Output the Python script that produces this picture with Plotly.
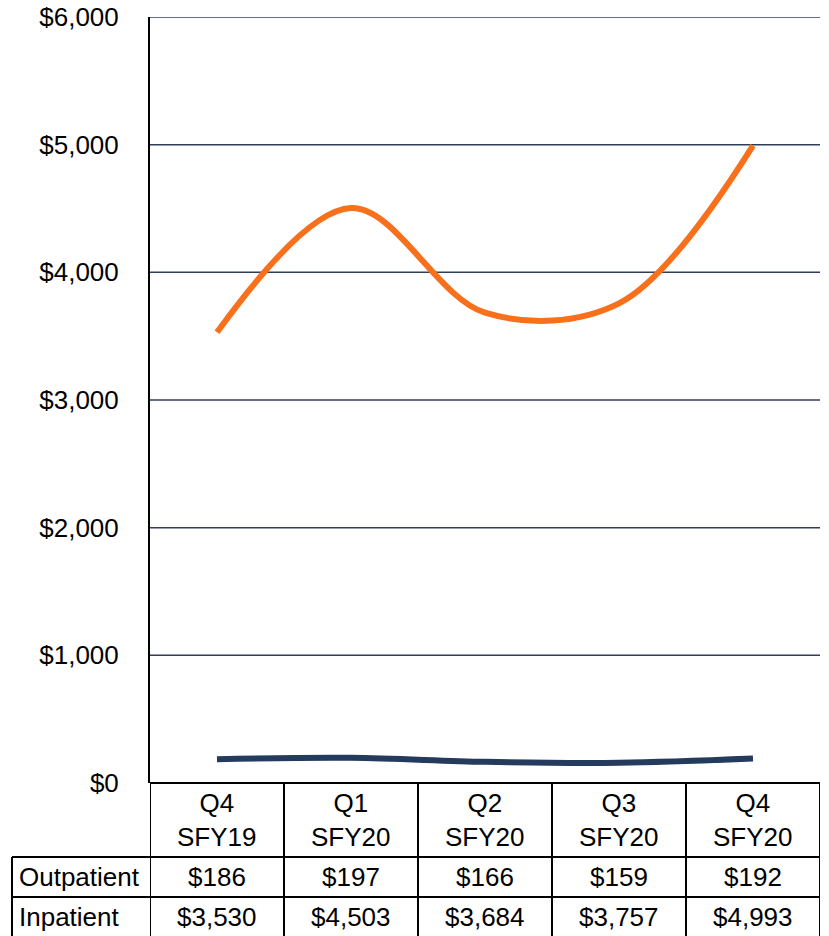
import plotly.graph_objects as go

# Quarterly cost per member data
quarters = ["Q4<br>SFY19", "Q1<br>SFY20", "Q2<br>SFY20", "Q3<br>SFY20", "Q4<br>SFY20"]
outpatient = [186, 197, 166, 159, 192]
inpatient = [3530, 4503, 3684, 3757, 4993]
row_labels = ["Outpatient", "Inpatient"]
y_ticks = [0, 1000, 2000, 3000, 4000, 5000, 6000]

W, H = 829, 936
ORANGE = "#F8701C"
NAVY = "#253B5E"
GRID = "#2F3D5A"
FONT = "Liberation Sans"
FS = 26

# pixel layout helpers (converted to paper fractions)
def px_x(p):
    return p / W

def px_y(p):
    return 1 - p / H

plot_left, plot_right = 150, 820
plot_top, plot_bottom = 17, 783
header_bottom, row1_bottom, row2_bottom = 857, 897, 937
label_left = 12

xs = list(range(len(quarters)))

fig = go.Figure()
fig.add_trace(go.Scatter(
    x=xs, y=inpatient, mode="lines", name="Inpatient",
    line=dict(color=ORANGE, width=6, shape="spline", smoothing=1.0),
))
fig.add_trace(go.Scatter(
    x=xs, y=outpatient, mode="lines", name="Outpatient",
    line=dict(color=NAVY, width=6, shape="spline", smoothing=1.0),
))

fig.update_layout(
    width=W, height=H,
    margin=dict(l=0, r=0, t=0, b=0, autoexpand=False),
    paper_bgcolor="white", plot_bgcolor="white",
    showlegend=False,
    font=dict(family=FONT, size=FS, color="black"),
    xaxis=dict(
        domain=[px_x(plot_left), px_x(plot_right)],
        range=[-0.5, len(quarters) - 0.5],
        showgrid=False, zeroline=False, showticklabels=False, ticks="",
        automargin=False,
    ),
    yaxis=dict(
        domain=[px_y(plot_bottom), px_y(plot_top)],
        range=[0, 6000],
        tickvals=y_ticks,
        ticktext=[f"${v:,}" for v in y_ticks],
        tickfont=dict(family=FONT, size=FS, color="black"),
        ticklabelstandoff=24,
        showgrid=False,
        zeroline=False,
        showline=True, linecolor="black", linewidth=2,
        ticks="",
        automargin=False,
    ),
)

shapes = []
# horizontal gridlines
for v in y_ticks[1:]:
    shapes.append(dict(type="line", xref="paper", yref="y",
                       x0=px_x(plot_left), x1=px_x(plot_right), y0=v, y1=v,
                       line=dict(color=GRID, width=1.5), layer="below"))

line_style = dict(color="black", width=2)
# horizontal table rules
shapes.append(dict(type="line", xref="paper", yref="paper",
                   x0=px_x(plot_left), x1=px_x(plot_right),
                   y0=px_y(plot_bottom), y1=px_y(plot_bottom), line=line_style))
for yy in (header_bottom, row1_bottom, row2_bottom):
    shapes.append(dict(type="line", xref="paper", yref="paper",
                       x0=px_x(label_left), x1=px_x(plot_right),
                       y0=px_y(yy), y1=px_y(yy), line=line_style))
# vertical table rules at category boundaries
for b in [i - 0.5 for i in range(len(quarters) + 1)]:
    shapes.append(dict(type="line", xref="x", yref="paper",
                       x0=b, x1=b, y0=px_y(plot_bottom), y1=px_y(row2_bottom),
                       line=line_style))
shapes.append(dict(type="line", xref="paper", yref="paper",
                   x0=px_x(label_left), x1=px_x(label_left),
                   y0=px_y(header_bottom), y1=px_y(row2_bottom), line=line_style))
fig.update_layout(shapes=shapes)

annotations = []
for i, q in enumerate(quarters):
    annotations.append(dict(x=i, xref="x", y=px_y((plot_bottom + header_bottom) / 2),
                            yref="paper", text=q, showarrow=False,
                            font=dict(family=FONT, size=FS), yanchor="middle"))
    annotations.append(dict(x=i, xref="x", y=px_y((header_bottom + row1_bottom) / 2),
                            yref="paper", text=f"${outpatient[i]:,}", showarrow=False,
                            font=dict(family=FONT, size=FS), yanchor="middle"))
    annotations.append(dict(x=i, xref="x", y=px_y((row1_bottom + row2_bottom) / 2),
                            yref="paper", text=f"${inpatient[i]:,}", showarrow=False,
                            font=dict(family=FONT, size=FS), yanchor="middle"))
for j, lbl in enumerate(row_labels):
    top = header_bottom if j == 0 else row1_bottom
    bot = row1_bottom if j == 0 else row2_bottom
    annotations.append(dict(x=px_x(label_left + 5), xref="paper",
                            y=px_y((top + bot) / 2), yref="paper", text=lbl,
                            showarrow=False, xanchor="left", yanchor="middle",
                            font=dict(family=FONT, size=FS)))
fig.update_layout(annotations=annotations)

fig.write_html("out.html")
